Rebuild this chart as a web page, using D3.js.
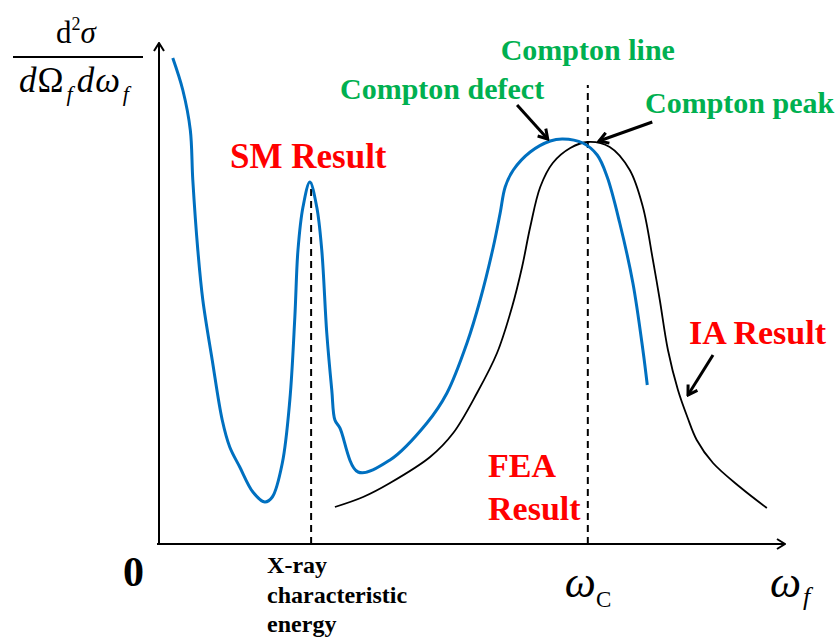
<!DOCTYPE html>
<html>
<head>
<meta charset="utf-8">
<script src="https://cdn.jsdelivr.net/npm/d3@7"></script>
<style>
  body { margin: 0; background: #fff; }
  text { font-family: "Liberation Serif", "Times New Roman", serif; }
</style>
</head>
<body>
<script>
// SM result (blue), [omega_f, cross section], arbitrary units
var smCurve = [
  [0.22, 9.72], [0.38, 9.08], [0.50, 8.28], [0.54, 7.28], [0.62, 5.88],
  [0.70, 4.88], [0.85, 3.68], [1.01, 2.48], [1.13, 1.94], [1.29, 1.54],
  [1.50, 1.04], [1.69, 0.84], [1.81, 0.94], [1.97, 1.62], [2.09, 2.88],
  [2.17, 4.54], [2.22, 5.88], [2.30, 6.74], [2.41, 7.24], [2.52, 6.74],
  [2.60, 5.88], [2.68, 4.22], [2.76, 3.08], [2.81, 2.48], [2.89, 2.32],
  [3.18, 1.44], [3.69, 1.68], [4.28, 2.42], [4.60, 3.02], [4.92, 4.02],
  [5.13, 4.88], [5.34, 5.94], [5.45, 6.62], [5.53, 7.14], [5.66, 7.48],
  [5.93, 7.84], [6.25, 8.06], [6.45, 8.10], [6.77, 8.02], [7.00, 7.78],
  [7.16, 7.34], [7.36, 6.42], [7.57, 5.22], [7.73, 3.88], [7.80, 3.18]
];

// IA result (black)
var iaCurve = [
  [2.81, 0.74], [3.26, 0.94], [3.69, 1.22], [4.33, 1.74], [4.70, 2.22],
  [5.08, 3.02], [5.40, 3.82], [5.64, 4.74], [5.80, 5.54], [5.93, 6.34],
  [6.09, 7.14], [6.29, 7.62], [6.57, 7.92], [6.85, 8.04], [7.20, 7.94],
  [7.52, 7.48], [7.73, 6.74], [7.89, 5.68], [8.00, 4.88], [8.13, 3.88],
  [8.29, 3.08], [8.44, 2.54], [8.59, 2.08], [8.85, 1.62], [9.28, 1.14],
  [9.71, 0.72]
];

var xrayEnergy = 2.43;
var comptonEnergy = 6.85;
var xrayTop = 7.24;
var comptonTop = 9.18;

// arrows: [from, to] in data units
var arrows = [
  [[5.72, 8.78], [6.21, 8.10]],
  [[7.88, 8.44], [7.03, 8.06]],
  [[8.85, 3.78], [8.45, 2.98]]
];

var xrayLines = ['X-ray', 'characteristic', 'energy'];

const w = 835;
const h = 639;
const green = '#00B050';
const red = '#FF0000';
const blue = '#0070C0';

const x = d3.scaleLinear().domain([0, 10]).range([159, 785]);
const y = d3.scaleLinear().domain([0, 10]).range([544, 44]);

const svg = d3.select('body').append('svg').attr('width', w).attr('height', h);

const defs = svg.append('defs');
defs.append('marker').attr('id', 'axhead').attr('viewBox', '0 0 12 12')
  .attr('refX', 11).attr('refY', 6).attr('markerWidth', 12).attr('markerHeight', 12)
  .attr('markerUnits', 'userSpaceOnUse').attr('orient', 'auto')
  .append('path').attr('d', 'M3,1 L11,6 L3,11').attr('fill', 'none')
  .attr('stroke', '#000').attr('stroke-width', 2);
defs.append('marker').attr('id', 'head').attr('viewBox', '0 0 14 14')
  .attr('refX', 12).attr('refY', 7).attr('markerWidth', 14).attr('markerHeight', 14)
  .attr('markerUnits', 'userSpaceOnUse').attr('orient', 'auto')
  .append('path').attr('d', 'M3,1.5 L12,7 L3,12.5').attr('fill', 'none')
  .attr('stroke', '#000').attr('stroke-width', 3);

// axes (no ticks, just arrows)
svg.append('line').attr('x1', x(0) - 2).attr('x2', x(10)).attr('y1', y(0)).attr('y2', y(0))
  .attr('stroke', '#000').attr('stroke-width', 2).attr('marker-end', 'url(#axhead)');
svg.append('line').attr('x1', x(0)).attr('x2', x(0)).attr('y1', y(0) + 1).attr('y2', y(10) - 1)
  .attr('stroke', '#000').attr('stroke-width', 2).attr('marker-end', 'url(#axhead)');

// dashed guides
svg.append('line').attr('x1', x(xrayEnergy)).attr('x2', x(xrayEnergy))
  .attr('y1', y(0)).attr('y2', y(xrayTop))
  .attr('stroke', '#000').attr('stroke-width', 2).attr('stroke-dasharray', '7,5');
svg.append('line').attr('x1', x(comptonEnergy)).attr('x2', x(comptonEnergy))
  .attr('y1', y(0)).attr('y2', y(comptonTop))
  .attr('stroke', '#000').attr('stroke-width', 2).attr('stroke-dasharray', '7,5');

const line = d3.line().x((d) => x(d[0])).y((d) => y(d[1]))
  .curve(d3.curveCatmullRom.alpha(0.5));

svg.append('path').datum(iaCurve).attr('d', line).attr('fill', 'none')
  .attr('stroke', '#000').attr('stroke-width', 1.8);
svg.append('path').datum(smCurve).attr('d', line).attr('fill', 'none')
  .attr('stroke', blue).attr('stroke-width', 3);

svg.selectAll('.arrow').data(arrows).enter().append('line').attr('class', 'arrow')
  .attr('x1', (d) => x(d[0][0])).attr('y1', (d) => y(d[0][1]))
  .attr('x2', (d) => x(d[1][0])).attr('y2', (d) => y(d[1][1]))
  .attr('stroke', '#000').attr('stroke-width', 3).attr('marker-end', 'url(#head)');

function label(txt, px, py, size, color, anchor) {
  return svg.append('text').attr('x', px).attr('y', py).attr('font-size', size)
    .attr('font-weight', 'bold').attr('fill', color).attr('text-anchor', anchor || 'start').text(txt);
}

label('Compton line', x(comptonEnergy), 60, 30, green, 'middle');
label('Compton defect', 340, 99, 30, green);
label('Compton peak', 645, 113, 30, green);
label('SM Result', 230, 168, 35, red);
label('IA Result', 689, 344, 34, red);
label('FEA', 488, 477, 34, red);
label('Result', 488, 520, 34, red);
label('0', 123, 586, 42, '#000');

svg.selectAll('.xray').data(xrayLines).enter().append('text').attr('class', 'xray')
  .attr('x', x(xrayEnergy) - 44).attr('y', (d, i) => 573 + i * 29.5)
  .attr('font-size', 24).attr('font-weight', 'bold').text((d) => d);

// omega_C
const wc = svg.append('text').attr('x', x(comptonEnergy) - 23).attr('y', 597);
wc.append('tspan').attr('font-size', 44).attr('font-style', 'italic').text('ω');
wc.append('tspan').attr('font-size', 23).attr('dy', 10).text('C');

// omega_f
const wf = svg.append('text').attr('x', 770).attr('y', 597);
wf.append('tspan').attr('font-size', 44).attr('font-style', 'italic').text('ω');
wf.append('tspan').attr('font-size', 26).attr('font-style', 'italic').attr('dx', 2).attr('dy', 8).text('f');

// y label: d²σ / dΩ_f dω_f
const num = svg.append('text').attr('x', 76).attr('y', 43).attr('text-anchor', 'middle').attr('font-size', 31);
num.append('tspan').text('d');
num.append('tspan').attr('font-size', 18).attr('dy', -13).text('2');
num.append('tspan').attr('font-style', 'italic').attr('dy', 13).text('σ');

svg.append('line').attr('x1', 13).attr('x2', 143).attr('y1', 57).attr('y2', 57)
  .attr('stroke', '#000').attr('stroke-width', 2);

const den = svg.append('text').attr('x', 74).attr('y', 92).attr('text-anchor', 'middle').attr('font-size', 35);
den.append('tspan').attr('font-style', 'italic').text('d');
den.append('tspan').attr('dx', 1).text('Ω');
den.append('tspan').attr('font-style', 'italic').attr('font-size', 22).attr('dx', 3).attr('dy', 9).text('f');
den.append('tspan').attr('font-style', 'italic').attr('dx', 4).attr('dy', -9).text('d');
den.append('tspan').attr('font-style', 'italic').attr('dx', 1).text('ω');
den.append('tspan').attr('font-style', 'italic').attr('font-size', 22).attr('dx', 3).attr('dy', 9).text('f');
</script>
</body>
</html>
